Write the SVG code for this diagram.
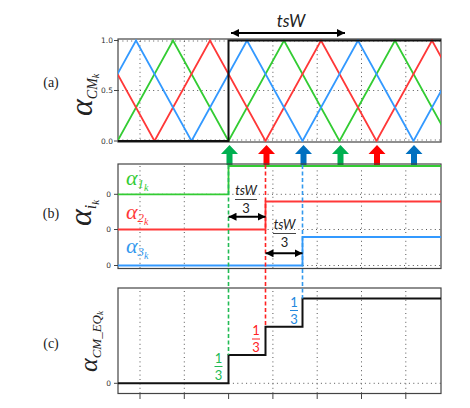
<svg xmlns="http://www.w3.org/2000/svg" width="470" height="408" viewBox="0 0 470 408">
<style>
.frame{fill:none;stroke:#444;stroke-width:1.2}
.grid{fill:none;stroke:#555;stroke-width:1;stroke-dasharray:1 3.4}
.tick{stroke:#444;stroke-width:1}
.tl{font-family:"DejaVu Sans",sans-serif;font-size:7.5px;fill:#333;text-anchor:end}
.pl{font-family:"Liberation Serif",serif;font-size:14px;fill:#222;text-anchor:middle}
.ax{font-family:"Liberation Serif","DejaVu Serif",serif;font-style:italic;fill:#222}
.lg{font-family:"Liberation Serif","DejaVu Serif",serif;font-style:italic}
.ts{font-family:Lato,"Open Sans",sans-serif;font-style:italic;fill:#222}
.fr{font-family:Lato,"Open Sans",sans-serif;text-anchor:middle}
.dim{stroke:#000;stroke-width:2;fill:none;marker-start:url(#ah);marker-end:url(#ah)}
.g{stroke:#33cc33}.r{stroke:#ff3838}.b{stroke:#3399ff}
.sig{fill:none;stroke-width:1.8}
.step{fill:none;stroke:#111;stroke-width:2}
.dash{fill:none;stroke-width:1.6;stroke-dasharray:4 2.5}
</style>
<defs>
<marker id="ah" viewBox="0 0 8 8" refX="8" refY="4" markerWidth="8" markerHeight="8" markerUnits="userSpaceOnUse" orient="auto-start-reverse">
<path d="M0,0 L8,4 L0,8 z" fill="#000"/>
</marker>
<path id="up" d="M-8.5,154 L0,145 L8.5,154 L3,154 L3,165 L-3,165 L-3,154 z"/>
<clipPath id="ca"><rect x="118" y="39" width="323" height="103"/></clipPath>
</defs>

<g id="panel-a">
<g class="grid">
<path d="M140,41V141M184.3,41V141M272.9,41V141M317.2,41V141M361.5,41V141M405.8,41V141M118,90.5H441M118,41H441M118,140H441"/>
</g>
<rect class="frame" x="118" y="39" width="323" height="103"/>
<path class="tick" d="M114,40.5H118M114,90.5H118M114,141H118"/>
<text class="tl" x="113" y="43">1.0</text>
<text class="tl" x="113" y="93">0.5</text>
<text class="tl" x="113" y="144">0.0</text>
<g clip-path="url(#ca)">
<polyline class="sig g" points="117.5,141 173,40.5 228.5,141 284,40.5 339.5,141 395,40.5 450.5,141"/>
<polyline class="sig r" points="99,40.5 154.5,141 210,40.5 265.5,141 321,40.5 376.5,141 432,40.5 487.5,141"/>
<polyline class="sig b" points="80.5,141 136,40.5 191.5,141 247,40.5 302.5,141 358,40.5 413.5,141 469,40.5"/>
</g>
<polyline class="step" points="118,141 228.5,141 228.5,40.5 441,40.5"/>
<text class="pl" x="51" y="87">(a)</text>
<text class="ax" transform="translate(92,116) rotate(-90)" font-size="32">α<tspan font-size="14" dy="5">CM</tspan><tspan font-size="10" dy="2">k</tspan></text>
<text class="ts" x="291" y="27" font-size="17" text-anchor="middle">tsW</text>
</g>

<g id="arrows-up">
<use href="#up" x="229.5" fill="#00b050"/>
<use href="#up" x="266.5" fill="#ff0000"/>
<use href="#up" x="303.5" fill="#0070c0"/>
<use href="#up" x="340.5" fill="#00b050"/>
<use href="#up" x="377" fill="#ff0000"/>
<use href="#up" x="414" fill="#0070c0"/>
</g>

<g id="panel-b">
<g class="grid">
<path d="M140,166V268M184.3,166V268M272.9,166V268M317.2,166V268M361.5,166V268M405.8,166V268M118,194.3H441M118,229.5H441M118,265.5H441"/>
</g>
<rect class="frame" x="118" y="164" width="323" height="104.5"/>
<path class="tick" d="M114,194.3H118M114,229.5H118M114,265.5H118"/>
<text class="tl" x="111" y="197">0</text>
<text class="tl" x="111" y="232">0</text>
<text class="tl" x="111" y="268">0</text>
<text class="pl" x="51" y="218">(b)</text>
<text class="ax" transform="translate(91,226) rotate(-90)" font-size="32">α<tspan font-size="16" dy="5">i</tspan><tspan font-size="11" dy="3">k</tspan></text>
<text class="lg" x="126" y="185" font-size="22" fill="#33cc33">α<tspan font-size="13" dy="3">1</tspan><tspan font-size="10" dy="3">k</tspan></text>
<text class="lg" x="126" y="218.5" font-size="22" fill="#ff3838">α<tspan font-size="13" dy="3">2</tspan><tspan font-size="10" dy="3">k</tspan></text>
<text class="lg" x="126" y="253" font-size="22" fill="#3399ee">α<tspan font-size="13" dy="3">3</tspan><tspan font-size="10" dy="3">k</tspan></text>
<polyline class="sig g" points="118,194.3 228.5,194.3 228.5,166 441,166"/>
<polyline class="sig r" points="118,229.5 265.5,229.5 265.5,201.5 441,201.5"/>
<polyline class="sig b" points="118,265.5 302.5,265.5 302.5,237 441,237"/>
<text class="ts" x="246" y="195" font-size="13" text-anchor="middle">tsW</text>
<path d="M235,199.5H257" stroke="#444" stroke-width="1"/>
<text class="fr" x="246" y="213" font-size="13" fill="#222">3</text>
<text class="ts" x="284.5" y="228.5" font-size="13" text-anchor="middle">tsW</text>
<path d="M273,233.5H296" stroke="#444" stroke-width="1"/>
<text class="fr" x="284.5" y="246.5" font-size="13" fill="#222">3</text>
</g>

<g id="panel-c">
<g class="grid">
<path d="M140,291V393M184.3,291V393M272.9,291V393M317.2,291V393M361.5,291V393M405.8,291V393M228.5,383.3H441"/>
</g>
<rect class="frame" x="118" y="288" width="323" height="105.5"/>
<path class="tick" d="M114,383.3H118M140,393.5V399M184.3,393.5V399M228.6,393.5V399M272.9,393.5V399M317.2,393.5V399M361.5,393.5V399M405.8,393.5V399"/>
<text class="tl" x="111" y="386">0</text>
<text class="pl" x="51" y="348">(c)</text>
<text class="ax" transform="translate(97,372) rotate(-90)" font-size="26">α<tspan font-size="13" dy="4">CM_EQ</tspan><tspan font-size="9" dy="2">k</tspan></text>
<polyline class="step" points="118,383.3 228.5,383.3 228.5,355 265.5,355 265.5,326.7 302.5,326.7 302.5,298.5 441,298.5"/>
<g fill="#22bb55"><text class="fr" x="218.5" y="362.5" font-size="13">1</text><rect x="214.5" y="366" width="8" height="1"/><text class="fr" x="218.5" y="380" font-size="13">3</text></g>
<g fill="#ff2222"><text class="fr" x="256" y="335" font-size="13">1</text><rect x="252" y="338.5" width="8" height="1"/><text class="fr" x="256" y="352" font-size="13">3</text></g>
<g fill="#2288dd"><text class="fr" x="294" y="306.5" font-size="13">1</text><rect x="290" y="310" width="8" height="1"/><text class="fr" x="294" y="324" font-size="13">3</text></g>
</g>

<g id="connectors">
<path class="dash" stroke="#22bb55" d="M228.5,165V355"/>
<path class="dash" stroke="#ff2222" d="M265.5,165V326.7"/>
<path class="dash" stroke="#3399ee" d="M302.5,165V298.5"/>
<path class="dim" d="M231,33H345"/>
<path class="dim" d="M228.5,216.7H265.5"/>
<path class="dim" d="M265.5,253.3H302.5"/>
</g>
</svg>
